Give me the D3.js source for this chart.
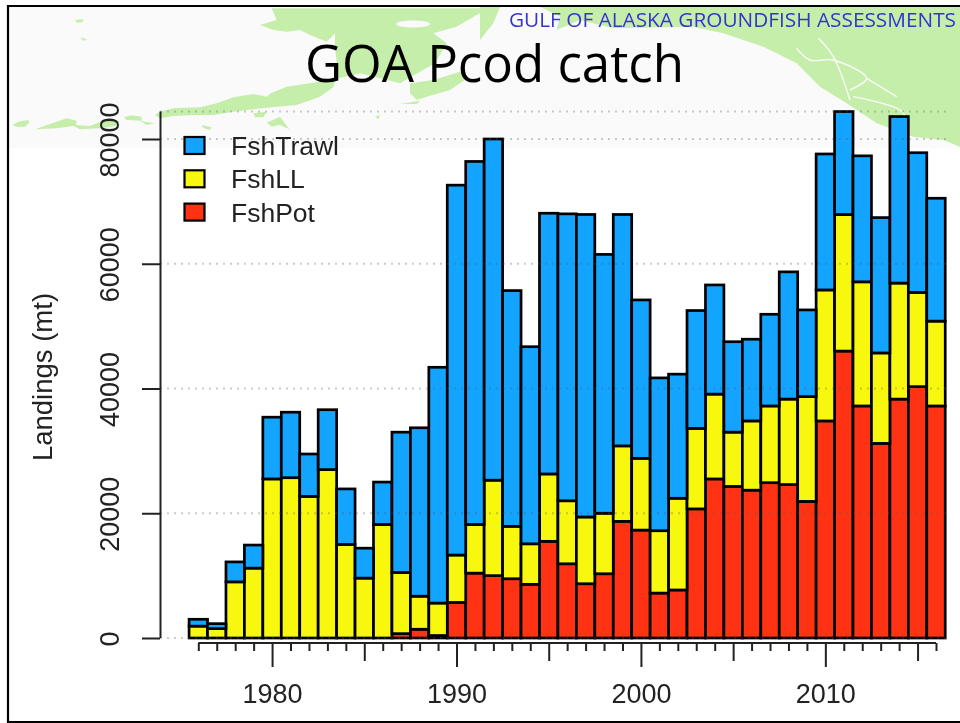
<!DOCTYPE html>
<html><head><meta charset="utf-8">
<style>html,body{margin:0;padding:0;background:#fff;overflow:hidden}svg{display:block}
text{font-family:"Liberation Sans",Arial,sans-serif;fill:#222}
.soft{filter:blur(0.45px)}</style>
<script src="https://cdn.jsdelivr.net/npm/d3@7/dist/d3.min.js"></script></head><body>
<svg id="c" width="960" height="723"></svg>
<script>
const years = d3.range(1976, 2017);
const fshPot = [0,0,0,0,0,0,0,0,0,0,0,700,1400,400,5700,10400,10000,9500,8600,15500,11900,8700,10300,18700,17300,7200,7700,20700,25500,24300,23700,24900,24600,21900,34800,46000,37200,31200,38300,40300,37200];
const fshLL = [1900,1500,9000,11200,25500,25700,22700,27000,15000,9600,18200,9800,5300,5200,7600,7800,15300,8400,6500,10800,10100,10700,9700,12100,11500,10000,14700,12900,13600,8700,11100,12300,13700,16800,21000,21900,19900,14500,18600,15100,13600];
const fshTrawl = [1100,800,3200,3700,9900,10500,6800,9600,8900,4800,6800,22500,27000,37800,59300,58200,54700,37800,31600,41800,46000,48500,41500,37100,25400,24500,19900,18900,17500,14500,13100,14700,20400,13900,21800,16500,20200,21700,26700,22400,19700];
const seriesNames = ["FshPot","FshLL","FshTrawl"];
const seriesColors = {FshPot:"#ff3314",FshLL:"#f8f80e",FshTrawl:"#12a4ff"};
const legendOrder = ["FshTrawl","FshLL","FshPot"];
const yTicks = [0,20000,40000,60000,80000];
const gridValues = [0,20000,40000,60000,80000,84400];
const xLabels = [1980,1990,2000,2010];
const title = "GOA Pcod catch";
const header = "GULF OF ALASKA GROUNDFISH ASSESSMENTS";
const yLabel = "Landings (mt)";

const table = years.map((year,i)=>({year,FshPot:fshPot[i],FshLL:fshLL[i],FshTrawl:fshTrawl[i]}));
const svg = d3.select("#c");
const x = d3.scaleLinear().domain([1976,2016]).range([198.3,936]);
const y = d3.scaleLinear().domain([0,80000]).range([638,139]);
const bw = x(1977)-x(1976);

/* decorative background map */
svg.append("rect").attr("x",9).attr("y",7).attr("width",951).attr("height",141).attr("fill","#fafafb");
const land = svg.append("g").attr("class","soft").attr("fill","#c6eeab");
const line = d3.line().curve(d3.curveLinearClosed);
const shape = (ox,pts)=>land.append("path").attr("d",line(pts.map(p=>[ox+p[0]/3,p[1]/3])));
shape(0,[[38,375],[55,365],[85,360],[88,368],[75,380],[50,380]]);
shape(0,[[105,388],[150,372],[200,355],[230,362],[228,375],[270,378],[300,366],[340,358],[360,365],[345,378],[300,385],[240,388],[220,378],[170,385]]);
shape(0,[[372,352],[395,346],[425,350],[425,362],[380,360]]);
shape(0,[[420,363],[465,370],[440,375]]);
shape(0,[[225,60],[250,58],[248,67],[232,68]]);
shape(0,[[240,112],[262,118],[250,123]]);
shape(0,[[605,375],[635,382],[630,390],[610,384]]);
shape(0,[[800,368],[840,350],[868,388],[840,375],[815,380]]);
shape(0,[[760,340],[800,335],[790,352],[765,352]]);
shape(0,[[1125,350],[1140,345],[1135,358]]);
shape(0,[[1200,312],[1260,302],[1250,312]]);
shape(0,[[465,345],[480,335],[520,325],[600,322],[650,310],[700,292],[760,282],[800,290],[812,280],[860,260],[940,248],[1010,232],[1000,262],[960,290],[890,315],[830,320],[760,328],[700,335],[640,345],[590,345],[520,348],[480,355]]);
shape(260,[[35,25],[690,25],[650,45],[590,80],[520,100],[560,130],[525,190],[480,215],[420,250],[300,220],[235,235],[225,140],[225,100],[200,125],[150,105],[120,90],[80,95],[40,90],[0,75],[50,60]]);
shape(260,[[450,250],[520,240],[600,215],[622,235],[570,270],[500,290],[470,300],[450,280]]);
shape(480,[[180,20],[1440,20],[1440,440],[1390,420],[1300,410],[1190,370],[1100,310],[1020,260],[950,190],[850,140],[730,100],[640,80],[400,85],[300,60],[230,90],[240,50]]);
shape(480,[[0,20],[60,20],[40,70],[0,120]]);
const cut = svg.append("g").attr("class","soft").attr("fill","none").attr("stroke","#fafafb").attr("stroke-width",1.4);
const cline = d3.line().curve(d3.curveCatmullRom);
const channel = (ox,pts)=>cut.append("path").attr("d",cline(pts.map(p=>[ox+p[0]/3,p[1]/3])));
channel(640,[[535,115],[580,170],[630,300]]);
channel(640,[[470,145],[510,180],[580,180],[680,235],[630,270]]);
channel(640,[[680,235],[770,290]]);
channel(640,[[640,290],[780,330],[800,360]]);
svg.append("ellipse").attr("cx",413).attr("cy",24).attr("rx",17).attr("ry",3.5).attr("fill","#fafafb");

/* bars */
const stacked = d3.stack().keys(seriesNames)(table);
const barG = svg.append("g").attr("class","soft").attr("stroke","#000").attr("stroke-width",2.7);
barG.selectAll("g").data(stacked).join("g").attr("fill",d=>seriesColors[d.key])
  .selectAll("rect").data(d=>d.filter(v=>v[1]>v[0])).join("rect")
  .attr("x",d=>x(d.data.year)-bw/2).attr("width",bw)
  .attr("y",d=>y(d[1])).attr("height",d=>y(d[0])-y(d[1]));

/* dotted grid, over the bars */
svg.append("g").attr("class","soft").selectAll("line").data(gridValues).join("line")
  .attr("x1",160).attr("x2",946).attr("y1",d=>y(d)).attr("y2",d=>y(d))
  .attr("stroke","#555").attr("stroke-opacity",.3).attr("stroke-width",2).attr("stroke-dasharray","2 5");

/* axes */
const yAxis = svg.append("g").attr("class","soft").attr("transform","translate(160,0)")
  .call(d3.axisLeft(y).tickValues(yTicks).tickSize(18).tickPadding(0).tickFormat(d3.format("d")));
yAxis.select(".domain").attr("d",`M0.5,${y(84400)}V${y(0)}`);
yAxis.selectAll("line").attr("stroke","#222").attr("stroke-width",2);
yAxis.select(".domain").attr("stroke","#222").attr("stroke-width",2);
yAxis.selectAll("text").attr("transform","translate(-41,0.5) rotate(-90)")
  .attr("x",0).attr("y",0).attr("dy",0).attr("text-anchor","middle").style("font-size","27px");

const xAxis = svg.append("g").attr("class","soft").attr("transform","translate(0,643)")
  .call(d3.axisBottom(x).tickValues(years).tickSizeOuter(0).tickFormat(d=>xLabels.includes(d)?d:""));
xAxis.select(".domain").attr("d",`M${x(1976)},0H${x(2016)}`).attr("stroke","#222").attr("stroke-width",2);
xAxis.selectAll("line").attr("stroke","#222").attr("stroke-width",2)
  .attr("y2",d=>d%10===0?24:d%5===0?18:8);
xAxis.selectAll("text").attr("y",60).attr("dy",0).style("font-size","27px");

svg.append("text").attr("class","soft").attr("transform","translate(52,377) rotate(-90)").attr("text-anchor","middle")
  .style("font-size","27.5px").text(yLabel);

/* legend */
const leg = svg.append("g").attr("class","soft").selectAll("g").data(legendOrder).join("g")
  .attr("transform",(d,i)=>`translate(0,${137+i*33.3})`);
leg.append("rect").attr("x",184.5).attr("width",20).attr("height",17).attr("stroke","#000").attr("stroke-width",2.2).attr("fill",d=>seriesColors[d]);
leg.append("text").attr("x",231).attr("y",18).style("font-size","26.5px").text(d=>d);

/* titles */
svg.append("text").attr("x",305).attr("y",82).attr("textLength",379).attr("lengthAdjust","spacingAndGlyphs")
  .style("font-family","'Open Sans'").style("font-size","51px").style("fill","#000").text(title);
svg.append("text").attr("x",509).attr("y",27).attr("textLength",447).attr("lengthAdjust","spacingAndGlyphs")
  .style("font-family","'Open Sans'").style("font-size","19.5px").style("fill","#3535cc").text(header);

/* slide frame */
svg.append("path").attr("d","M960,6H8V722H960").attr("fill","none").attr("stroke","#000").attr("stroke-width",2.2);
</script></body></html>
